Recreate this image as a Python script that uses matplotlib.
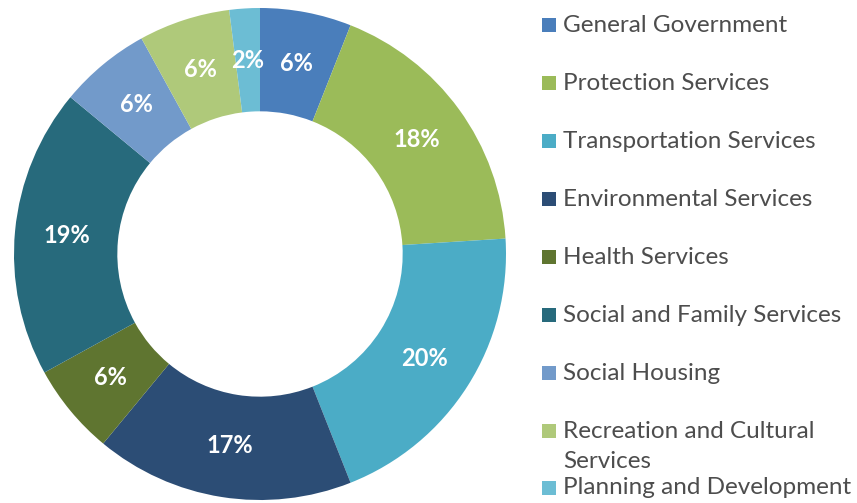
import matplotlib
matplotlib.use("Agg")
import matplotlib.pyplot as plt
from matplotlib.patches import Rectangle

# spending share by service (percent)
labels = ["General Government", "Protection Services", "Transportation Services",
          "Environmental Services", "Health Services", "Social and Family Services",
          "Social Housing", "Recreation and Cultural\nServices", "Planning and Development"]
shares = [6, 18, 20, 17, 6, 19, 6, 6, 2]
colors = ["#4a7ebb", "#9bbb59", "#4bacc6", "#2c4d75", "#5f7530",
          "#276a7c", "#729aca", "#afc97a", "#6cbdd4"]

plt.rcParams["font.family"] = ["Lato", "DejaVu Sans"]

W, H = 857, 503
fig = plt.figure(figsize=(W / 100, H / 100), dpi=100)

# donut: center ~ (260, 254) px, outer radius ~246 px
cx, cy, r = 260, 254, 246
ax = fig.add_axes([(cx - r) / W, (H - cy - r) / H, 2 * r / W, 2 * r / H])
wedges, _, autotexts = ax.pie(
    shares, colors=colors, startangle=90, counterclock=False,
    autopct="%d%%", pctdistance=0.79,
    wedgeprops=dict(width=0.42, linewidth=0),
    textprops=dict(color="white", fontsize=17, fontweight="bold"))
ax.set_xlim(-1, 1)
ax.set_ylim(-1, 1)
ax.set_aspect("equal")
ax.axis("off")

# legend drawn by hand to mimic the wrapped entry
x_box, x_txt = 542, 563
y0, step, line_h = 25, 58, 30
y = y0
for lab, col in zip(labels, colors):
    fig.patches.append(Rectangle(((x_box) / W, 1 - (y + 7) / H), 14 / W, 14 / H,
                                 transform=fig.transFigure, facecolor=col,
                                 edgecolor="none"))
    lines = lab.split("\n")
    for k, ln in enumerate(lines):
        fig.text(x_txt / W, 1 - (y + k * line_h) / H, ln, fontsize=17.5,
                 color="#4d4d4d", va="center", ha="left")
    y += step if len(lines) == 1 else line_h * 2 - 3

fig.savefig("out.png", dpi=100)
